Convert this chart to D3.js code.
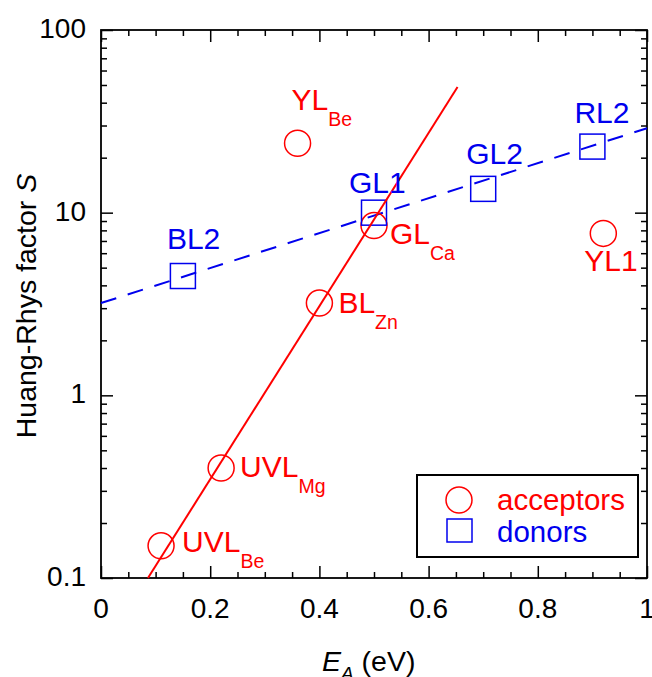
<!DOCTYPE html>
<html>
<head>
<meta charset="utf-8">
<script src="https://cdn.jsdelivr.net/npm/d3@7"></script>
<style>
  body { margin: 0; background: #fff; }
  text { font-family: "Liberation Sans", Arial, sans-serif; }
</style>
</head>
<body>
<div id="chart"></div>
<script>
// acceptors (circles)
const acceptorNames = ["UVL", "UVL", "BL", "GL", "YL", "YL1"]
const acceptorSubs = ["Be", "Mg", "Zn", "Ca", "Be", ""]
const acceptorE = [0.11, 0.22, 0.40, 0.50, 0.36, 0.92]
const acceptorS = [0.15, 0.40, 3.2, 8.5, 24, 7.7]

// donors (squares)
const donorNames = ["BL2", "GL1", "GL2", "RL2"]
const donorE = [0.15, 0.50, 0.70, 0.90]
const donorS = [4.5, 10, 13.5, 23]

// fitted lines
const acceptorFitE = [0.086, 0.653]
const acceptorFitS = [0.1, 48.7]
const donorFitE = [0, 1]
const donorFitS = [3.2, 29]

const xTicks = [0, 0.2, 0.4, 0.6, 0.8, 1]
const xTickLabels = ["0", "0.2", "0.4", "0.6", "0.8", "1"]
const yTicks = [0.1, 1, 10, 100]
const yTickLabels = ["0.1", "1", "10", "100"]

// label offsets from the marker centre, in px (layout only)
const acceptorLabelOff = [[21, 6], [19, 9], [19, 10], [16, 18], [-6, -33], [-19, 38]]
const donorLabelOff = [[-16, -27], [-25, -20], [-17, -25], [-18, -24]]

const red = "#ff0000"
const blue = "#0000ee"

const svg = d3.select("#chart").append("svg")
  .attr("width", 652)
  .attr("height", 677)

const margin = {top: 30, right: 5, bottom: 99, left: 101}
const width = 652 - margin.left - margin.right
const height = 677 - margin.top - margin.bottom

const g = svg.append("g")
  .attr("transform", `translate(${margin.left}, ${margin.top})`)

const x = d3.scaleLinear().domain([0, 1]).range([0, width])
const y = d3.scaleLog().domain([0.1, 100]).range([height, 0])

const minorX = d3.range(0, 1.0001, 0.05).filter(v => Math.abs(v * 5 - Math.round(v * 5)) > 1e-6)
const minorY = []
yTicks.slice(0, -1).forEach(d => { for (let k = 2; k <= 9; k++) minorY.push(d * k) })

// ticks, all pointing inward
function ticks(axis, vals, size, transform) {
  g.append("g")
    .attr("transform", transform)
    .call(axis.tickValues(vals).tickSize(size).tickFormat(""))
    .call(s => s.select(".domain").remove())
    .call(s => s.selectAll("line").attr("stroke", "#000").attr("stroke-width", 1.5))
}
ticks(d3.axisBottom(x), xTicks, -12, `translate(0,${height})`)
ticks(d3.axisBottom(x), minorX, -6, `translate(0,${height})`)
ticks(d3.axisTop(x), xTicks, -12, "translate(0,0)")
ticks(d3.axisTop(x), minorX, -6, "translate(0,0)")
ticks(d3.axisLeft(y), yTicks, -12, "translate(0,0)")
ticks(d3.axisLeft(y), minorY, -6, "translate(0,0)")
ticks(d3.axisRight(y), yTicks, -12, `translate(${width},0)`)
ticks(d3.axisRight(y), minorY, -6, `translate(${width},0)`)

g.append("rect")
  .attr("width", width).attr("height", height)
  .attr("fill", "none").attr("stroke", "#000").attr("stroke-width", 1.8)

// tick labels
g.selectAll(".xl").data(xTicks).enter().append("text")
  .attr("x", d => x(d)).attr("y", height + 40)
  .attr("text-anchor", "middle").attr("font-size", 28)
  .text((d, i) => xTickLabels[i])

g.selectAll(".yl").data(yTicks).enter().append("text")
  .attr("x", -15).attr("y", d => y(d) + 8)
  .attr("text-anchor", "end").attr("font-size", 28)
  .text((d, i) => yTickLabels[i])

// axis titles
const xt = svg.append("text").attr("x", 322).attr("y", 671).attr("font-size", 28.5)
xt.append("tspan").attr("font-style", "italic").text("E")
xt.append("tspan").attr("font-style", "italic").attr("font-size", 19).attr("dy", 9).text("A")
xt.append("tspan").attr("dy", -9).text(" (eV)")

const yt = svg.append("text")
  .attr("transform", "translate(36,306) rotate(-90)")
  .attr("text-anchor", "middle").attr("font-size", 28.5)
yt.append("tspan").text("Huang-Rhys factor ")
yt.append("tspan").attr("font-style", "italic").text("S")

// fit lines
const line = d3.line().x(d => x(d[0])).y(d => y(d[1]))
g.append("path")
  .datum(donorFitE.map((e, i) => [e, donorFitS[i]]))
  .attr("d", line).attr("fill", "none")
  .attr("stroke", blue).attr("stroke-width", 2).attr("stroke-dasharray", "16,12")

// markers
g.selectAll(".acc").data(acceptorE).enter().append("circle")
  .attr("cx", d => x(d)).attr("cy", (d, i) => y(acceptorS[i]))
  .attr("r", 13).attr("fill", "none").attr("stroke", red).attr("stroke-width", 1.5)

g.selectAll(".don").data(donorE).enter().append("rect")
  .attr("x", d => x(d) - 12.5).attr("y", (d, i) => y(donorS[i]) - 12.5)
  .attr("width", 25).attr("height", 25)
  .attr("fill", "none").attr("stroke", blue).attr("stroke-width", 1.5)

g.append("path")
  .datum(acceptorFitE.map((e, i) => [e, acceptorFitS[i]]))
  .attr("d", line).attr("fill", "none")
  .attr("stroke", red).attr("stroke-width", 2)

// point labels
acceptorE.forEach((e, i) => {
  const t = g.append("text")
    .attr("x", x(e) + acceptorLabelOff[i][0])
    .attr("y", y(acceptorS[i]) + acceptorLabelOff[i][1])
    .attr("font-size", 30).attr("fill", red)
  t.append("tspan").text(acceptorNames[i])
  if (acceptorSubs[i]) t.append("tspan").attr("font-size", 19.5).attr("dy", 16).text(acceptorSubs[i])
})

donorE.forEach((e, i) => {
  g.append("text")
    .attr("x", x(e) + donorLabelOff[i][0])
    .attr("y", y(donorS[i]) + donorLabelOff[i][1])
    .attr("font-size", 30).attr("fill", blue)
    .text(donorNames[i])
})

// legend
const lg = svg.append("g").attr("transform", "translate(417,475)")
lg.append("rect").attr("width", 221).attr("height", 82)
  .attr("fill", "#fff").attr("stroke", "#000").attr("stroke-width", 2)
lg.append("circle").attr("cx", 42).attr("cy", 25).attr("r", 13)
  .attr("fill", "none").attr("stroke", red).attr("stroke-width", 1.5)
lg.append("rect").attr("x", 30).attr("y", 44).attr("width", 25).attr("height", 23)
  .attr("fill", "none").attr("stroke", blue).attr("stroke-width", 1.5)
lg.append("text").attr("x", 80).attr("y", 35).attr("font-size", 29.5).attr("fill", red).text("acceptors")
lg.append("text").attr("x", 80).attr("y", 67).attr("font-size", 29.5).attr("fill", blue).text("donors")
</script>
</body>
</html>
